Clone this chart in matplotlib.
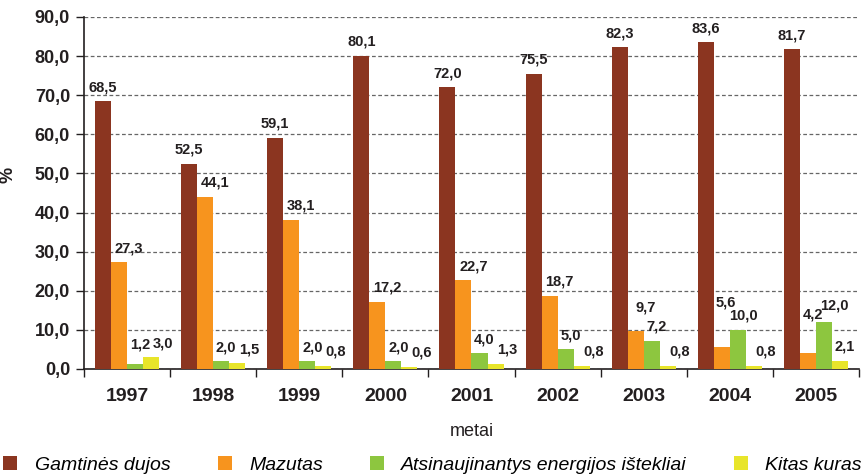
import numpy as np
import matplotlib
matplotlib.use("Agg")
import matplotlib.pyplot as plt
from matplotlib.patches import Patch

"""Chart data"""
years = ["1997", "1998", "1999", "2000", "2001", "2002", "2003", "2004", "2005"]
series_names = ["Gamtinės dujos", "Mazutas", "Atsinaujinantys energijos ištekliai", "Kitas kuras"]
gamtines_dujos = [68.5, 52.5, 59.1, 80.1, 72.0, 75.5, 82.3, 83.6, 81.7]
mazutas = [27.3, 44.1, 38.1, 17.2, 22.7, 18.7, 9.7, 5.6, 4.2]
atsinaujinantys = [1.2, 2.0, 2.0, 2.0, 4.0, 5.0, 7.2, 10.0, 12.0]
kitas_kuras = [3.0, 1.5, 0.8, 0.6, 1.3, 0.8, 0.8, 0.8, 2.1]

colors = ["#8B3520", "#F7941E", "#8DC63F", "#E8E52A"]
TEXT_COLOR = "#231F20"
MAIN_FONT = ["Liberation Sans", "DejaVu Sans"]

"""Label placement in px: sideways shift per series, tweaks for hand-moved labels"""
label_shift = [0, 10, 5, 12]
shift_fix = {(1, 7): 4, (2, 7): 6, (1, 8): 5, (2, 8): 10, (3, 8): 5}
label_lift = {(1, 6): 10, (1, 7): 31, (1, 8): 24, (2, 0): 6, (2, 8): 3}
px = 0.72  # points per pixel at 100 dpi


def fmt(v):
    """Lithuanian decimal comma."""
    return f"{v:.1f}".replace(".", ",")


plt.rcParams['font.family'] = MAIN_FONT

fig = plt.figure(figsize=(8.62, 4.76), dpi=100)
ax = fig.add_axes([84 / 862, 1 - 369 / 476, 775 / 862, 352 / 476])

all_series = [gamtines_dujos, mazutas, atsinaujinantys, kitas_kuras]
x = np.arange(len(years))
width = 0.186

for i, (vals, col) in enumerate(zip(all_series, colors)):
    pos = x + (i - 1.5) * width
    ax.bar(pos, vals, width=width, color=col, edgecolor="none", zorder=3)
    for j, (bx, v) in enumerate(zip(pos, vals)):
        dx = shift_fix.get((i, j), label_shift[i])
        dy = 14 + label_lift.get((i, j), 0)
        ax.annotate(fmt(v), (bx, v), xytext=(dx * px, dy * px),
                    textcoords="offset points", ha="center", va="center",
                    fontsize=10.5, fontweight="bold", color=TEXT_COLOR, zorder=4)

ax.set_xlim(-0.5, len(years) - 0.5)
ax.set_ylim(0, 90)
yt = np.arange(0, 91, 10)
ax.set_yticks(yt)
ax.set_yticklabels([fmt(v) for v in yt], fontsize=13, fontweight="bold", color=TEXT_COLOR)
ax.yaxis.grid(True, linestyle=(0, (3, 2)), color="#666666", linewidth=0.9, zorder=0)

# year labels centred, ticks at group boundaries
ax.set_xticks(np.arange(-0.5, len(years), 1.0))
ax.set_xticklabels([])
ax.set_xticks(x, minor=True)
ax.set_xticklabels(years, minor=True, fontsize=14, fontweight="bold", color=TEXT_COLOR)
ax.tick_params(axis="x", which="minor", length=0, pad=14)
ax.tick_params(axis="x", which="major", length=6, width=1, color=TEXT_COLOR)
ax.tick_params(axis="y", length=6, width=1, color=TEXT_COLOR, pad=4)

for s in ["top", "right"]:
    ax.spines[s].set_visible(False)
for s in ["left", "bottom"]:
    ax.spines[s].set_color(TEXT_COLOR)
    ax.spines[s].set_linewidth(1.2)

ax.set_ylabel("%", fontsize=13, fontweight="bold", color=TEXT_COLOR)
ax.yaxis.set_label_coords((17 - 84) / 775, (369 - 175) / 352)

fig.text(472 / 862, 1 - 431 / 476, "metai", ha="center", va="center", fontsize=13,
         color=TEXT_COLOR)

handles = [Patch(facecolor=c, edgecolor="none") for c in colors]
fig.legend(handles, series_names, loc="center", bbox_to_anchor=(0.004, 1 - 465 / 476, 0.996, 0.0),
           ncol=4, mode="expand", frameon=False, handlelength=0.72, handleheight=0.72,
           handletextpad=0.9, borderaxespad=0.0, borderpad=0.0,
           prop={"style": "italic", "size": 14})

fig.savefig("out.png", dpi=100)
